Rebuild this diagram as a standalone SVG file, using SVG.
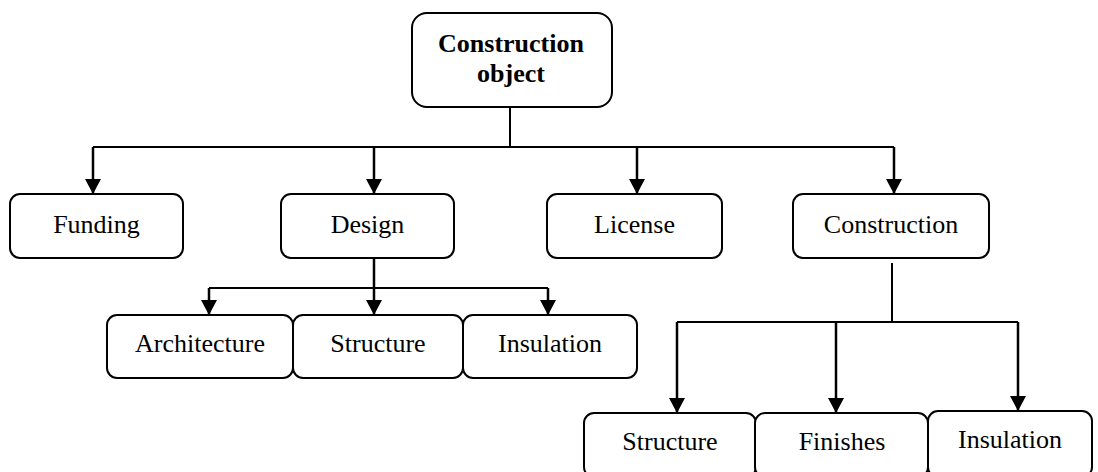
<svg xmlns="http://www.w3.org/2000/svg" width="1098" height="472" viewBox="0 0 1098 472">
  <defs>
    <style>
      .box { fill: #ffffff; stroke: #000000; stroke-width: 2; }
      .lbl { font-size: 26px; fill: #000000; text-anchor: middle; }
      .bold { font-weight: bold; }
      .wire { fill: none; stroke: #000000; stroke-width: 2; }
      .arr { fill: none; stroke: #000000; stroke-width: 2.5; marker-end: url(#head); }
    </style>
    <marker id="head" markerUnits="userSpaceOnUse" markerWidth="16" markerHeight="16" viewBox="0 0 15 16" refX="15" refY="8" orient="auto">
      <path d="M0,0 L15,8 L0,16 Z" fill="#000000"/>
    </marker>
  </defs>
  <rect width="1098" height="472" fill="#ffffff"/>

  <!-- connectors -->
  <g id="connectors">
    <!-- root to first level -->
    <path class="wire" d="M510,107 V147 M93,147 H894"/>
    <path class="arr" d="M93,147 V194"/>
    <path class="arr" d="M374,147 V194"/>
    <path class="arr" d="M637,147 V194"/>
    <path class="arr" d="M894,147 V194"/>
    <!-- design branch -->
    <path class="wire" d="M209,288 H548"/>
    <path class="arr" d="M374,258 V315"/>
    <path class="arr" d="M209,288 V315"/>
    <path class="arr" d="M548,288 V315"/>
    <!-- construction branch -->
    <path class="wire" d="M892,263 V322 M677,322 H1018"/>
    <path class="arr" d="M677,322 V413"/>
    <path class="arr" d="M836,322 V413"/>
    <path class="arr" d="M1018,322 V411"/>
  </g>

  <g font-family="'Liberation Serif', 'DejaVu Serif', serif">
    <g id="root">
      <rect class="box" x="412" y="13" width="200" height="94" rx="15"/>
      <text class="lbl bold" x="511" y="52">Construction</text>
      <text class="lbl bold" x="511" y="82">object</text>
    </g>

    <g id="funding">
      <rect class="box" x="10" y="194" width="173" height="64" rx="10"/>
      <text class="lbl" x="96.5" y="233">Funding</text>
    </g>
    <g id="design">
      <rect class="box" x="281" y="194" width="173" height="64" rx="10"/>
      <text class="lbl" x="367.5" y="233">Design</text>
    </g>
    <g id="license">
      <rect class="box" x="547" y="194" width="175" height="64" rx="10"/>
      <text class="lbl" x="634.5" y="233">License</text>
    </g>
    <g id="construction">
      <rect class="box" x="793" y="194" width="196" height="64" rx="10"/>
      <text class="lbl" x="891" y="233">Construction</text>
    </g>

    <g id="architecture">
      <rect class="box" x="107" y="315" width="186" height="63" rx="10"/>
      <text class="lbl" x="200" y="352">Architecture</text>
    </g>
    <g id="design-structure">
      <rect class="box" x="293" y="315" width="170" height="63" rx="10"/>
      <text class="lbl" x="378" y="352">Structure</text>
    </g>
    <g id="design-insulation">
      <rect class="box" x="463" y="315" width="174" height="63" rx="10"/>
      <text class="lbl" x="550" y="352">Insulation</text>
    </g>

    <g id="build-structure">
      <rect class="box" x="584" y="413" width="172" height="64" rx="10"/>
      <text class="lbl" x="670" y="450">Structure</text>
    </g>
    <g id="finishes">
      <rect class="box" x="755" y="413" width="173" height="64" rx="10"/>
      <text class="lbl" x="842" y="450">Finishes</text>
    </g>
    <g id="build-insulation">
      <rect class="box" x="928" y="411" width="164" height="66" rx="10"/>
      <text class="lbl" x="1010" y="448">Insulation</text>
    </g>
  </g>
</svg>
